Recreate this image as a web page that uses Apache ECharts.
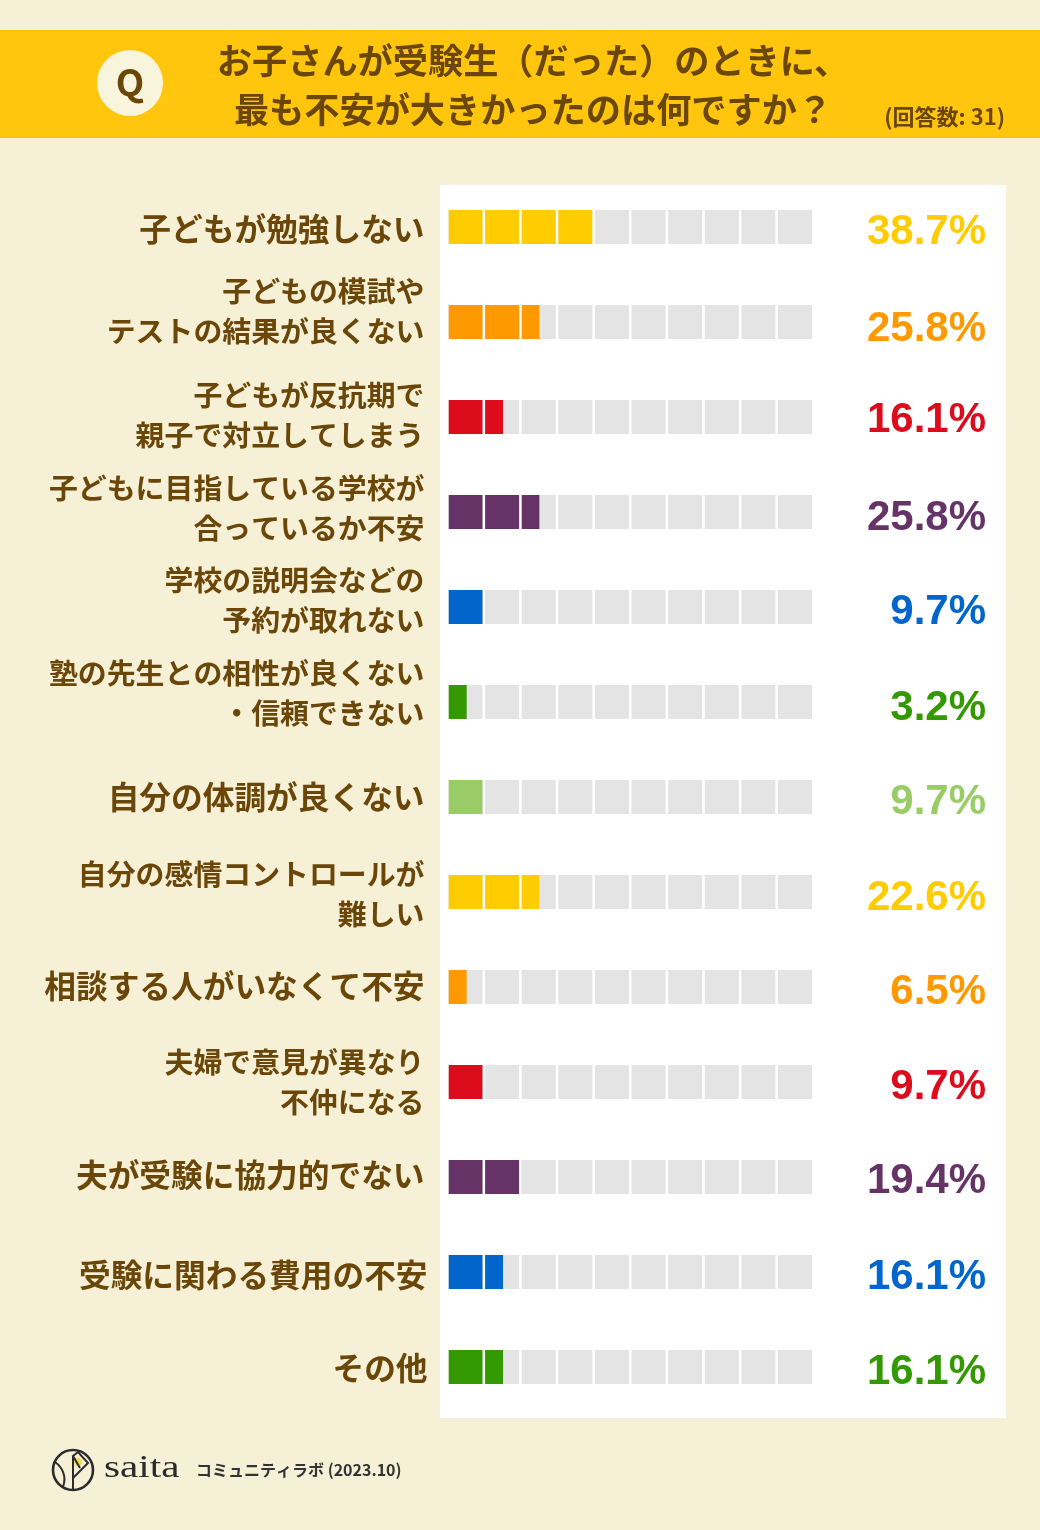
<!DOCTYPE html>
<html lang="ja">
<head>
<meta charset="utf-8">
<script src="https://cdn.jsdelivr.net/npm/echarts@6/dist/echarts.min.js"></script>
<style>
  html, body { margin: 0; padding: 0; background: #f6f1d6; }
  #chart { width: 1040px; height: 1530px; }
</style>
</head>
<body>
<div id="chart"></div>
<script>
const categories = [
  '子どもが勉強しない',
  '子どもの模試や\nテストの結果が良くない',
  '子どもが反抗期で\n親子で対立してしまう',
  '子どもに目指している学校が\n合っているか不安',
  '学校の説明会などの\n予約が取れない',
  '塾の先生との相性が良くない\n・信頼できない',
  '自分の体調が良くない',
  '自分の感情コントロールが\n難しい',
  '相談する人がいなくて不安',
  '夫婦で意見が異なり\n不仲になる',
  '夫が受験に協力的でない',
  '受験に関わる費用の不安',
  'その他'
];
const percents = [38.7, 25.8, 16.1, 25.8, 9.7, 3.2, 9.7, 22.6, 6.5, 9.7, 19.4, 16.1, 16.1];
// 塗られているマス数(元の図は半マス単位)
const filledCells = [4, 2.5, 1.5, 2.5, 1, 0.5, 1, 2.5, 0.5, 1, 2, 1.5, 1.5];
const totalCells = 10;

const rowColors = ['#ffcc00', '#ff9900', '#dc0c1c', '#663366', '#0066cc', '#339900', '#99cc66',
  '#ffcc00', '#ff9900', '#dc0c1c', '#663366', '#0066cc', '#339900'];
// ラベルのずれ(元の図に合わせた微調整)
const labelShiftY = [2, -11, -2, -4, -7, -9, 0, 2, -1, 0, -2, 3, 1];
const labelShiftX = [0, 0, 0, 0, 0, 0, 0, 0, 0, 0, 0, 3, 3];
const percentShiftY = [5, 7, 3, 6, 5, 6, 5, 6, 5, 5, 4, 5, 5];

const brown = '#6b4609';
const jpFont = '"Noto Sans CJK JP", sans-serif';
const logoStroke = { fill: 'none', stroke: '#2b2b2b', lineWidth: 2 };

const chart = echarts.init(document.getElementById('chart'), null, { renderer: 'canvas' });

const option = {
  backgroundColor: '#f6f1d6',
  animation: false,
  title: {
    text: 'お子さんが受験生（だった）のときに、\n最も不安が大きかったのは何ですか？',
    left: 528,
    top: 31,
    textAlign: 'center',
    textStyle: {
      fontFamily: jpFont,
      fontSize: 35.2,
      fontWeight: 700,
      lineHeight: 49,
      color: brown
    }
  },
  grid: { left: 448.5, top: 179.5, width: 363.5, height: 1235 },
  xAxis: { type: 'value', min: 0, max: totalCells, show: false },
  yAxis: {
    type: 'category',
    inverse: true,
    data: categories,
    axisLine: { show: false },
    axisTick: { show: false },
    axisLabel: { show: false }
  },
  graphic: [
    { type: 'rect', z: -10, shape: { x: 0, y: 30, width: 1040, height: 108 }, style: { fill: '#ffc60d' } },
    { type: 'rect', z: -10, shape: { x: 440, y: 185, width: 566, height: 1233 }, style: { fill: '#ffffff' } },
    { type: 'circle', z: -5, shape: { cx: 130, cy: 83, r: 33 }, style: { fill: '#f9f4dc' } },
    { type: 'text', z: 5, x: 130, y: 82, style: {
      text: 'Q', fill: brown, font: '700 37px "Noto Sans CJK JP"', textAlign: 'center', textVerticalAlign: 'middle' } },
    { type: 'text', z: 5, x: 1005, y: 117, style: {
      text: '(回答数: 31)', fill: brown, font: '700 22px "Noto Sans CJK JP"', textAlign: 'right', textVerticalAlign: 'middle' } },
    // ロゴ
    { type: 'circle', z: 5, shape: { cx: 73, cy: 1470, r: 20 }, style: { fill: 'none', stroke: '#2b2b2b', lineWidth: 2.6 } },
    { type: 'circle', z: 4, shape: { cx: 78, cy: 1462, r: 4 }, style: { fill: '#f2dc4a' } },
    { type: 'line', z: 5, shape: { x1: 73, y1: 1490, x2: 73, y2: 1456 }, style: logoStroke },
    { type: 'polyline', z: 5, shape: { points: [[73, 1478], [88, 1463], [78, 1452], [73, 1456], [80, 1468]] }, style: logoStroke },
    { type: 'bezierCurve', z: 5, shape: { x1: 55, y1: 1462, cpx1: 62, cpy1: 1467, cpx2: 67, cpy2: 1476, x2: 63, y2: 1487 }, style: logoStroke },
    { type: 'text', z: 5, x: 104, y: 1469, scaleX: 1.33, style: {
      text: 'saita', fill: '#2b2b2b', font: '400 31px "Liberation Serif"', textVerticalAlign: 'middle' } },
    { type: 'text', z: 5, x: 196, y: 1470, style: {
      text: 'コミュニティラボ (2023.10)', fill: '#333333', font: '700 16px "Noto Sans CJK JP"', textVerticalAlign: 'middle' } }
  ],
  series: [
    {
      // グレーのマス + パーセント表示
      type: 'pictorialBar',
      symbol: 'rect',
      symbolRepeat: 'fixed',
      symbolBoundingData: totalCells,
      symbolMargin: 2.6,
      symbolSize: [34, 34],
      itemStyle: { color: '#e4e4e4' },
      z: 2,
      data: percents.map((p, i) => ({
        value: totalCells,
        label: {
          show: true,
          position: 'right',
          distance: 174,
          align: 'right',
          offset: [0, percentShiftY[i]],
          formatter: p.toFixed(1) + '%',
          color: rowColors[i],
          fontFamily: '"Liberation Sans", Arial, sans-serif',
          fontWeight: 700,
          fontSize: 42
        }
      }))
    },
    {
      // 塗りのマス
      type: 'pictorialBar',
      symbol: 'rect',
      symbolRepeat: 'fixed',
      symbolBoundingData: totalCells,
      symbolMargin: 2.6,
      symbolSize: [34, 34],
      symbolClip: true,
      z: 3,
      data: filledCells.map((v, i) => ({ value: v, itemStyle: { color: rowColors[i] } }))
    },
    {
      // 項目名(2行の項目は少し小さい文字)
      type: 'bar',
      silent: true,
      itemStyle: { color: 'transparent' },
      z: 4,
      data: categories.map((c, i) => ({
        value: 0,
        label: {
          show: true,
          position: 'left',
          distance: 24,
          align: 'right',
          offset: [labelShiftX[i], labelShiftY[i]],
          formatter: c,
          color: brown,
          fontFamily: jpFont,
          fontWeight: 700,
          fontSize: c.includes('\n') ? 28.9 : 31.7,
          lineHeight: 40
        }
      }))
    }
  ]
};

option && chart.setOption(option);
</script>
</body>
</html>
